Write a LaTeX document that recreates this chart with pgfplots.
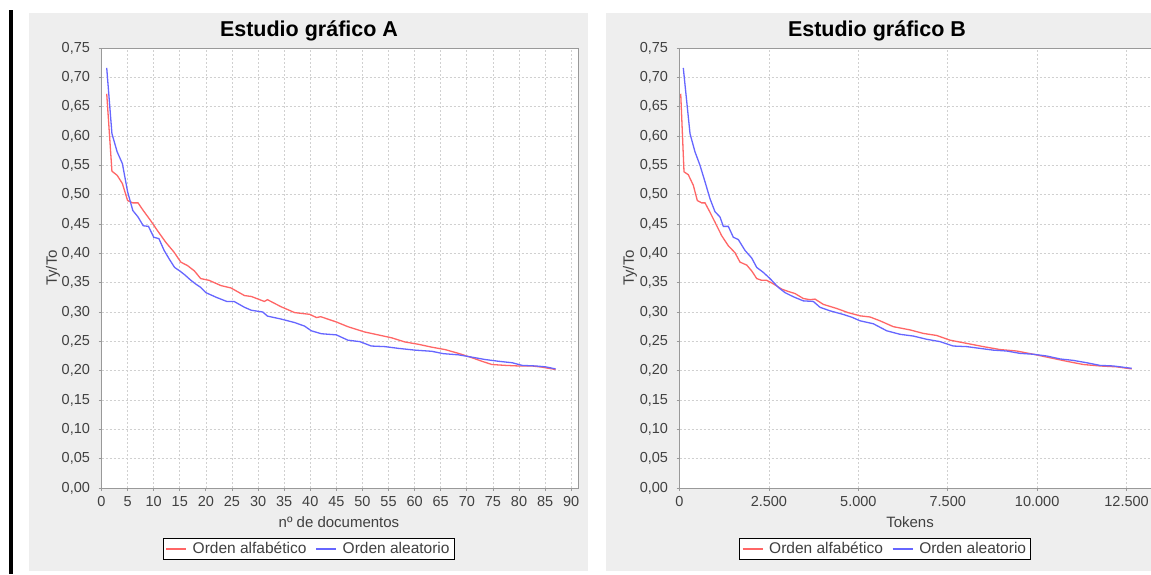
\documentclass[border=0pt]{standalone}
\usepackage{fontspec}
\setmainfont{Liberation Sans}
\usepackage{pgfplots}
\pgfplotsset{compat=1.18}
\definecolor{panel}{HTML}{EEEEEE}
\definecolor{gridc}{HTML}{D0D0D0}
\definecolor{axc}{HTML}{999999}
\definecolor{txt}{HTML}{404040}
\definecolor{redl}{HTML}{FF6666}
\definecolor{bluel}{HTML}{6666FF}
\pgfplotsset{chart/.style={
  scale only axis, height=440pt,
  ymin=0, ymax=0.75,
  ytick={0,0.05,0.1,0.15,0.2,0.25,0.3,0.35,0.4,0.45,0.5,0.55,0.6,0.65,0.7,0.75},
  yticklabel style={xshift=-5pt, /pgf/number format/.cd, fixed, fixed zerofill, precision=2, use comma},
  /pgf/number format/assume math mode=true,
  xtick pos=left, ytick pos=left,
  tick align=outside, major tick length=3pt,
  tick style={axc, line width=0.8pt},
  axis line style={axc, line width=0.8pt},
  grid=major, major grid style={gridc, dash pattern=on 2pt off 2pt, line width=0.7pt},
  tick label style={font=\fontsize{14.5}{16}\selectfont, text=txt},
  label style={font=\fontsize{15}{18}\selectfont, text=txt},
  axis background/.style={fill=white},
  legend style={draw=black, fill=white, font=\fontsize{15.5}{18}\selectfont, text=txt, legend columns=2, inner xsep=2.5pt, inner ysep=2pt, line width=0.8pt,
    /tikz/every odd column/.append style={column sep=4pt},
    /tikz/every even column/.append style={column sep=7pt}},
  legend image code/.code={\draw[#1] (0pt,0pt) -- (20pt,0pt);},
  every axis plot/.append style={line width=1.3pt},
}}
\begin{document}
\begin{tikzpicture}[x=1pt,y=1pt]
\useasboundingbox (0,0) rectangle (1151,574);
\clip (0,0) rectangle (1151,574);
\fill[white] (0,0) rectangle (1151,574);
\fill[black] (9,0) rectangle (13,564);
\fill[panel] (29,3) rectangle (588,561);
\fill[panel] (606,3) rectangle (1180,561);
\node[font=\bfseries\fontsize{21.5}{24}\selectfont, anchor=base] at (309,537.2) {Estudio gráfico A};
\node[font=\bfseries\fontsize{21.5}{24}\selectfont, anchor=base] at (877,537.2) {Estudio gráfico B};

\begin{axis}[chart, at={(101.5pt,86pt)}, anchor=south west, width=476.5pt,
  xmin=0, xmax=91.3, xtick={0,5,...,90},
  xticklabel style={yshift=-2pt},
  xlabel={nº de documentos}, ylabel={Ty/To},
  xlabel style={at={(axis description cs:0.4984,-0.0898)}, anchor=base},
  ylabel style={at={(axis description cs:-0.1018,0.5)}, anchor=center},
  legend style={at={(axis description cs:0.4344,-0.1386)}, anchor=center}]
\addplot[redl] coordinates {
(1,0.672)(2,0.540)(3,0.533)(4,0.519)(5,0.490)(6,0.486)(7,0.486)(8,0.473)(9.4,0.456)(10.7,0.439)
(12.3,0.419)(13.9,0.402)(15.2,0.385)(16.5,0.379)(17.8,0.370)(19,0.357)(20.6,0.354)(22.9,0.345)
(24.8,0.341)(27.4,0.328)(28.7,0.3265)(31.2,0.318)(31.8,0.321)(34.4,0.309)(37,0.299)(39.9,0.296)
(41.2,0.2905)(42,0.292)(45,0.283)(47.2,0.275)(50.4,0.266)(53,0.261)(55.6,0.256)(58.1,0.249)
(60.7,0.245)(63.3,0.240)(65.8,0.236)(68.4,0.2295)(71,0.222)(72.9,0.216)(74.8,0.2105)(77.4,0.209)
(79.9,0.208)(82.5,0.208)(84.4,0.206)(87,0.202)};
\addlegendentry{Orden alfabético}
\addplot[bluel] coordinates {
(1,0.716)(2,0.604)(3,0.573)(4,0.553)(5,0.505)(6,0.473)(7,0.462)(8,0.447)(9,0.446)(10,0.4275)
(11,0.425)(12,0.405)(13,0.390)(14,0.376)(15,0.370)(16,0.363)(17,0.355)(18,0.348)(19,0.342)
(20,0.333)(22,0.325)(24,0.318)(25.4,0.318)(27.4,0.308)(28.7,0.303)(30.9,0.300)(31.8,0.293)
(34.4,0.288)(37,0.282)(38.9,0.276)(40.2,0.268)(42.1,0.263)(45,0.261)(47.2,0.252)(49.5,0.2495)
(51.7,0.242)(54.3,0.241)(56.9,0.238)(60.1,0.235)(63.3,0.233)(65.5,0.229)(68.4,0.227)(71,0.223)
(73.5,0.219)(76.1,0.216)(78.7,0.2135)(80.6,0.209)(83.2,0.208)(85.1,0.2065)(87,0.203)};
\addlegendentry{Orden aleatorio}
\end{axis}

\begin{axis}[chart, at={(679.5pt,86pt)}, anchor=south west, width=475.5pt,
  xmin=0, xmax=13295, xtick={0,2500,...,12500}, scaled x ticks=false,
  xticklabel style={yshift=-2pt, /pgf/number format/.cd, fixed, 1000 sep={.}},
  xlabel={Tokens}, ylabel={Ty/To},
  xlabel style={at={(axis description cs:0.4848,-0.0898)}, anchor=base},
  ylabel style={at={(axis description cs:-0.1041,0.5)}, anchor=center},
  legend style={at={(axis description cs:0.4322,-0.1386)}, anchor=center}]
\addplot[redl] coordinates {
(34,0.672)(126,0.539)(246,0.534)(386,0.516)(498,0.490)(621,0.486)(713,0.486)(853,0.470)(993,0.453)
(1180,0.430)(1364,0.413)(1552,0.401)(1692,0.385)(1879,0.380)(2019,0.370)(2159,0.357)(2298,0.354)
(2438,0.354)(2623,0.348)(2858,0.339)(3042,0.335)(3229,0.3315)(3461,0.323)(3649,0.321)(3789,0.322)
(4021,0.313)(4395,0.306)(4711,0.299)(5047,0.2935)(5327,0.2915)(5606,0.285)(5978,0.275)(6445,0.2695)
(6817,0.2635)(7191,0.260)(7563,0.252)(8030,0.2465)(8494,0.241)(8961,0.236)(9428,0.2335)(9892,0.228)
(10359,0.222)(10826,0.216)(11290,0.2105)(11757,0.208)(12224,0.2065)(12643,0.203)};
\addlegendentry{Orden alfabético}
\addplot[bluel] coordinates {
(106,0.716)(294,0.604)(433,0.573)(573,0.550)(713,0.522)(853,0.493)(992,0.471)(1132,0.462)(1225,0.446)
(1364,0.446)(1504,0.4275)(1644,0.4235)(1831,0.405)(2019,0.392)(2159,0.376)(2343,0.3675)(2530,0.357)
(2762,0.342)(2950,0.333)(3182,0.326)(3461,0.319)(3741,0.318)(3929,0.308)(4208,0.302)(4571,0.296)
(4823,0.291)(5047,0.285)(5419,0.280)(5793,0.268)(6165,0.262)(6537,0.259)(6912,0.2535)(7284,0.2495)
(7655,0.242)(8030,0.241)(8402,0.238)(8774,0.235)(9149,0.2335)(9520,0.2295)(9892,0.228)(10267,0.225)
(10639,0.220)(11011,0.2175)(11385,0.2135)(11757,0.209)(12129,0.208)(12643,0.204)};
\addlegendentry{Orden aleatorio}
\end{axis}
\end{tikzpicture}
\end{document}
